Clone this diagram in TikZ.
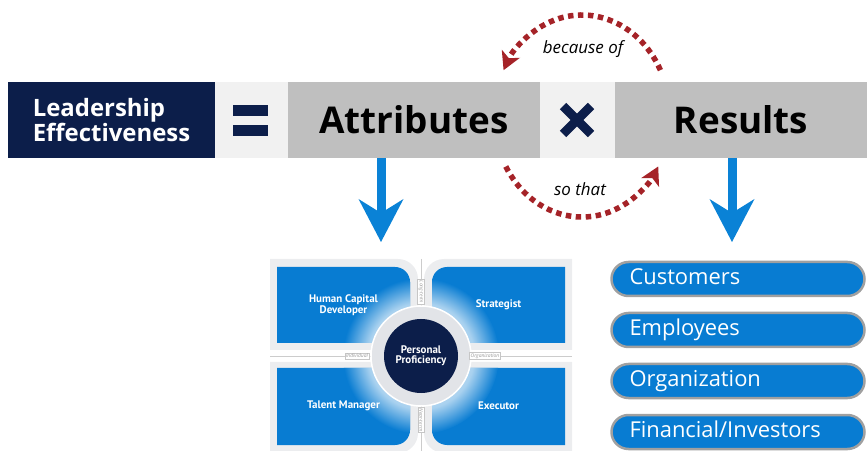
\documentclass[tikz,border=0pt]{standalone}
\usepackage{fontspec}
\setmainfont{Open Sans}
\newfontfamily\quadfont{PT Sans}
\usetikzlibrary{arrows.meta,positioning}
\definecolor{navy}{RGB}{12,30,74}
\definecolor{lightbox}{RGB}{241,241,241}
\definecolor{graybox}{RGB}{191,191,191}
\definecolor{arrowblue}{RGB}{10,130,214}
\definecolor{boxblue}{RGB}{8,124,210}
\definecolor{pillgray}{RGB}{160,160,160}
\definecolor{cyclered}{RGB}{165,35,40}
\definecolor{panelgray}{RGB}{236,237,239}
\definecolor{ringgray}{RGB}{226,228,232}
\pgfdeclareradialshading{quadglow}{\pgfpoint{0bp}{0bp}}{color(0bp)=(white); color(17bp)=(boxblue!35!white); color(25bp)=(boxblue); color(50bp)=(boxblue)}
\tikzstyle{barbox} = [rectangle, minimum height=76bp, inner sep=0, text centered,
,font=\bfseries\fontsize{37}{40}\selectfont]
\tikzstyle{bluearrow} = [arrowblue, line width=9bp, -{Stealth[length=43bp,width=45bp,inset=14bp,line width=0pt]}]
\tikzstyle{cyclearrow} = [cyclered, line width=5.5bp, dash pattern=on 5.5bp off 4.5bp,
,-{Stealth[length=18bp,width=20bp,inset=5bp,line width=0pt]}]
\tikzstyle{quadtext} = [text=white, align=center, inner sep=0, font=\quadfont\bfseries\fontsize{11}{10.5}\selectfont]
\tikzstyle{axislabel} = [fill=white, draw=gray!45, line width=0.3bp, inner sep=1.2bp, text=gray!80,
,font=\itshape\fontsize{5}{5}\selectfont]
\tikzstyle{pill} = [rectangle, rounded corners=17bp, draw=pillgray, line width=2.5bp, fill=boxblue,
,text width=217bp, inner xsep=18bp, inner ysep=0, text height=15bp, text depth=4bp, minimum height=34bp,
,align=left, text=white, font=\fontsize{22}{24}\selectfont]

\begin{document}
\begin{tikzpicture}[x=1bp,y=-1bp]
                        \useasboundingbox (0,0) rectangle (867,451);
                        % top bar
                        \node[barbox, fill=navy, minimum width=207bp, text=white, align=left,
                            font=\bfseries\fontsize{24}{23}\selectfont] (lead) at (111.5,120) {Leadership\\Effectiveness};
                        \node[barbox, fill=lightbox, minimum width=73bp] (eq) at (251.5,120) {};
                        \node[barbox, fill=graybox, minimum width=252bp] (attr) at (414,120) {Attributes};
                        \node[barbox, fill=lightbox, minimum width=75bp] (times) at (577.5,120) {};
                        \node[barbox, fill=graybox, minimum width=252bp] (res) at (741,120) {Results};
                        \fill[navy] (233,105) rectangle (268,116);
                        \fill[navy] (233,125) rectangle (268,136);
                        \draw[navy, line width=9bp] (563,106) -- (591,134);
                        \draw[navy, line width=9bp] (591,106) -- (563,134);
                        % cycle between attributes and results
                        \coordinate (cyc) at (582,116);
                        \draw[cyclearrow] (cyc) ++(-27:88 and 101) arc[start angle=-27, end angle=-153, x radius=88, y radius=101];
                        \draw[cyclearrow] (cyc) ++(150:88 and 101) arc[start angle=150, end angle=30, x radius=88, y radius=101];
                        \node[font=\itshape\fontsize{17}{19}\selectfont] (because) at (583,49) {because of};
                        \node[font=\itshape\fontsize{17}{19}\selectfont] (sothat) at (580,189) {so that};
                        % down arrows
                        \coordinate (atip) at (381,242);
                        \coordinate (rtip) at (732,242);
                        \draw[bluearrow] (atip |- attr.south) -- (atip);
                        \draw[bluearrow] (rtip |- res.south) -- (rtip);
                        % attribute quadrants
                        \coordinate (cen) at (421,356);
                        \fill[panelgray] (270,259) -- (398,259) arc[start angle=-90,end angle=0,radius=20] -- (418,350) -- (270,350) -- cycle;
                        \fill[panelgray] (572,259) -- (444,259) arc[start angle=-90,end angle=-180,radius=20] -- (424,350) -- (572,350) -- cycle;
                        \fill[panelgray] (270,453) -- (398,453) arc[start angle=90,end angle=0,radius=20] -- (418,362) -- (270,362) -- cycle;
                        \fill[panelgray] (572,453) -- (444,453) arc[start angle=90,end angle=180,radius=20] -- (424,362) -- (572,362) -- cycle;
                        \begin{scope}
                            \clip (277,267) -- (395,267) arc[start angle=-90,end angle=0,radius=15] -- (410,343) -- (277,343) -- cycle
                                (565,267) -- (447,267) arc[start angle=-90,end angle=-180,radius=15] -- (432,343) -- (565,343) -- cycle
                                (277,445) -- (395,445) arc[start angle=90,end angle=0,radius=15] -- (410,368) -- (277,368) -- cycle
                                (565,445) -- (447,445) arc[start angle=90,end angle=180,radius=15] -- (432,368) -- (565,368) -- cycle;
                            \fill[boxblue] (270,259) rectangle (572,451);
                            \shade[shading=quadglow] (cen) circle (78);
                        \end{scope}
                        \draw[gray!40, line width=0.4bp] (421,259) -- (421,453);
                        \draw[gray!40, line width=0.4bp] (270,356) -- (572,356);
                        \fill[ringgray] (cen) circle (50);
                        \draw[white, line width=1.5bp] (cen) circle (50);
                        \fill[navy] (cen) circle (37);
                        \node[quadtext] (hcd) at (343.5,305) {Human Capital\\Developer};
                        \node[quadtext] (strat) at (498.5,305) {Strategist};
                        \node[quadtext] (talent) at (343.5,406) {Talent Manager};
                        \node[quadtext] (exec) at (498.5,406) {Executor};
                        \node[quadtext, font=\quadfont\bfseries\fontsize{11}{10.5}\selectfont] (pp) at (cen) {Personal\\Proficiency};
                        \node[axislabel, rotate=-90] (longterm) at (421,292) {Long-term};
                        \node[axislabel, rotate=-90] (nearterm) at (421,420) {Near-term};
                        \node[axislabel] (indiv) at (357,356) {Individual};
                        \node[axislabel] (orgz) at (485,356) {Organization};
                        % results
                        \node[pill] (cust) at (738,279) {Customers};
                        \node[pill] (empl) at (738,330) {Employees};
                        \node[pill] (org) at (738,381) {Organization};
                        \node[pill] (fin) at (738,432) {Financial/Investors};
\end{tikzpicture}
\end{document}
